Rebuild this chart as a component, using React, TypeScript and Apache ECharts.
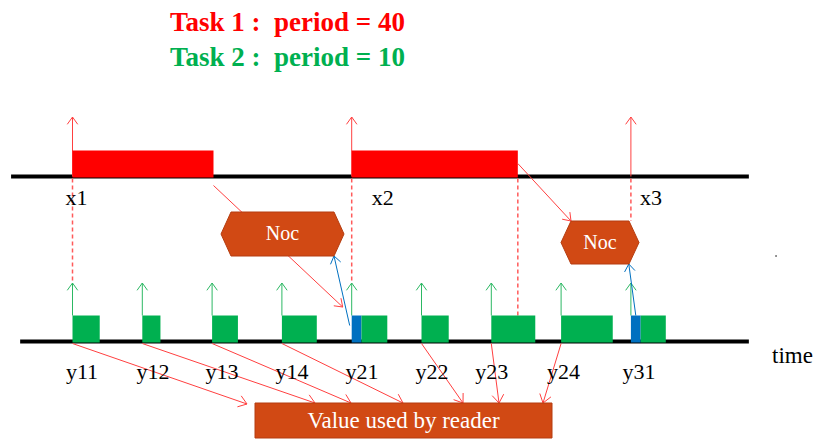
import React, { useEffect, useRef } from 'react';
import * as echarts from 'echarts';

// ---- data ----
const titles = ['Task 1 :  period = 40', 'Task 2 :  period = 10'];
const task1Labels = ['x1', 'x2', 'x3'];
const task1Releases = [0, 40, 80];
const task1Exec = [20.2, 23.8];
const task2Labels = ['y11', 'y12', 'y13', 'y14', 'y21', 'y22', 'y23', 'y24', 'y31'];
const task2Releases = [0, 10, 20, 30, 40, 50, 60, 70, 80];
const task2Noc = [0, 0, 0, 0, 1.4, 0, 0, 0, 1.4];
const task2Exec = [3.9, 2.6, 3.7, 5.0, 3.7, 3.9, 6.3, 7.4, 3.6];
const readerJobs = [0, 1, 2, 3, 5, 6, 7];
const nocLabel = 'Noc';
const readerLabel = 'Value used by reader';
const timeLabel = 'time';

// ---- layout (pixels / time units) ----
const PX_PER_UNIT = 6.98;
const ORIGIN_PX = 72.5;
const X_MIN = -ORIGIN_PX / PX_PER_UNIT;
const X_MAX = (820 - ORIGIN_PX) / PX_PER_UNIT;
const TOP_Y = 176.5;
const BOT_Y = 341.5;
const BAR_H = 26;
const TOP_ARROW_Y = 117;
const BOT_ARROW_Y = 283;
const TOP_START = -8.8;
const BOT_START = -7.5;
const LINE_END = 96.9;
const task1LabelDx = [4, 31, 20];
const task2LabelDx = [9.5, 10.7, 10, 10, 10.3, 10.5, 0.5, 2.5, 8];
const readerTargetsPx = [247, 315, 351, 403, 463, 499, 543];
const NOC = [
  { cx: 282.5, cy: 234, w: 123, h: 44 },
  { cx: 600, cy: 242.5, w: 78, h: 43 },
];
const BOX = { x: 255, y: 403, w: 297, h: 35 };

const SERIF = 'Liberation Serif';
const RED = '#FF0000';
const RED_LINE = '#FF4040';
const GREEN = '#00B050';
const GREEN_LINE = '#2CB863';
const BLUE = '#0070C0';
const ORANGE = '#D14914';
const ORANGE_EDGE = '#B53D10';

function txt(text: string, fill: string, size: number, bold = false, align = 'center') {
  const s: any = { text, fill, fontSize: size, fontFamily: SERIF, align, verticalAlign: 'middle' };
  if (bold) s.fontWeight = 'bold';
  return s;
}

function arrow(x1: number, y1: number, x2: number, y2: number, color: string, lw = 1, head = 8) {
  const a = Math.atan2(y2 - y1, x2 - x1);
  const s = 0.62;
  return {
    type: 'group',
    children: [
      { type: 'line', shape: { x1, y1, x2, y2 }, style: { stroke: color, lineWidth: lw, fill: 'none' } },
      {
        type: 'polyline',
        shape: {
          points: [
            [x2 - head * Math.cos(a - s), y2 - head * Math.sin(a - s)],
            [x2, y2],
            [x2 - head * Math.cos(a + s), y2 - head * Math.sin(a + s)],
          ],
        },
        style: { stroke: color, lineWidth: lw, fill: 'none' },
      },
    ],
  };
}

function custom(name: string, data: any[], z: number, render: (i: number, api: any) => any) {
  return {
    type: 'custom',
    name,
    coordinateSystem: 'cartesian2d',
    data,
    z,
    silent: true,
    clip: false,
    renderItem: (params: any, api: any) => render(params.dataIndex, api),
  };
}

function hexagon(n: { cx: number; cy: number; w: number; h: number }) {
  const l = n.cx - n.w / 2, r = n.cx + n.w / 2, t = n.cy - n.h / 2, b = n.cy + n.h / 2, k = 10;
  return [
    {
      type: 'polygon',
      z: 100,
      shape: { points: [[l, n.cy], [l + k, t], [r - k, t], [r, n.cy], [r - k, b], [l + k, b]] },
      style: { fill: ORANGE, stroke: ORANGE_EDGE, lineWidth: 1 },
    },
    { type: 'text', z: 101, x: n.cx, y: n.cy - 1, style: txt(nocLabel, '#FFFFFF', 20) },
  ];
}

const dashedEnds: [number, number][] = [
  [task1Releases[0], BOT_ARROW_Y],
  [task1Releases[1], BOT_ARROW_Y],
  [task1Releases[1] + task1Exec[1], BOT_Y - BAR_H],
  [task1Releases[2], NOC[1].cy - NOC[1].h / 2],
];

const option: any = {
  animation: false,
  grid: { left: 0, right: 0, top: 0, bottom: 0 },
  xAxis: { type: 'value', min: X_MIN, max: X_MAX, show: false },
  yAxis: { type: 'value', min: 0, max: 441, inverse: true, show: false },
  graphic: [
    { type: 'text', x: 170, y: 22, z: 100, style: txt(titles[0], RED, 27, true, 'left') },
    { type: 'text', x: 170, y: 57, z: 100, style: txt(titles[1], GREEN, 27, true, 'left') },
    { type: 'text', x: 772, y: 355, z: 100, style: txt(timeLabel, '#000', 23, false, 'left') },
    { type: 'circle', z: 100, shape: { cx: 776, cy: 256, r: 0.8 }, style: { fill: '#555' } },
    ...hexagon(NOC[0]),
    ...hexagon(NOC[1]),
    {
      type: 'rect', z: 100,
      shape: { x: BOX.x, y: BOX.y, width: BOX.w, height: BOX.h },
      style: { fill: ORANGE, stroke: ORANGE_EDGE, lineWidth: 1 },
    },
    { type: 'text', z: 101, x: BOX.x + BOX.w / 2, y: BOX.y + BOX.h / 2, style: txt(readerLabel, '#FFFFFF', 23) },
  ],
  series: [
    custom('timelines', [[0, 0], [1, 0]], 1, (i, api) => {
      const y = i === 0 ? TOP_Y : BOT_Y;
      const p0 = api.coord([i === 0 ? TOP_START : BOT_START, y]);
      const p1 = api.coord([LINE_END, y]);
      return { type: 'line', shape: { x1: p0[0], y1: p0[1], x2: p1[0], y2: p1[1] }, style: { stroke: '#000', lineWidth: 4, fill: 'none' } };
    }),
    custom('task1Release', task1Releases.map((r) => [r, 0]), 2, (i, api) => {
      const p0 = api.coord([task1Releases[i], TOP_Y]);
      const p1 = api.coord([task1Releases[i], TOP_ARROW_Y]);
      return arrow(p0[0], p0[1], p1[0], p1[1], RED_LINE, 1, 9);
    }),
    custom('task1Bars', task1Exec.map((d, i) => [task1Releases[i], d]), 3, (i, api) => {
      const p0 = api.coord([task1Releases[i], TOP_Y + 1]);
      const p1 = api.coord([task1Releases[i] + task1Exec[i], TOP_Y - BAR_H]);
      return { type: 'rect', shape: { x: p0[0], y: p1[1], width: p1[0] - p0[0], height: p0[1] - p1[1] }, style: { fill: RED } };
    }),
    custom('task2Release', task2Releases.map((r) => [r, 0]), 2, (i, api) => {
      const p0 = api.coord([task2Releases[i], BOT_Y - BAR_H]);
      const p1 = api.coord([task2Releases[i], BOT_ARROW_Y]);
      return arrow(p0[0], p0[1], p1[0], p1[1], GREEN_LINE, 1, 9);
    }),
    custom('task2Bars', task2Exec.map((d, i) => [task2Releases[i], d]), 3, (i, api) => {
      const r = task2Releases[i];
      const n = task2Noc[i];
      const children: any[] = [];
      const a0 = api.coord([r, BOT_Y + 1]);
      const a1 = api.coord([r + n, BOT_Y - BAR_H]);
      if (n > 0) {
        children.push({ type: 'rect', shape: { x: a0[0], y: a1[1], width: a1[0] - a0[0], height: a0[1] - a1[1] }, style: { fill: BLUE } });
      }
      const g1 = api.coord([r + n + task2Exec[i], BOT_Y - BAR_H]);
      children.push({ type: 'rect', shape: { x: a1[0], y: a1[1], width: g1[0] - a1[0], height: a0[1] - a1[1] }, style: { fill: GREEN } });
      return { type: 'group', children };
    }),
    custom('dashed', dashedEnds.map((d) => [d[0], 0]), 2, (i, api) => {
      const p0 = api.coord([dashedEnds[i][0], TOP_Y + 2]);
      const p1 = api.coord([dashedEnds[i][0], dashedEnds[i][1]]);
      return { type: 'line', shape: { x1: p0[0], y1: p0[1], x2: p1[0], y2: p1[1] }, style: { stroke: '#FF5A5A', lineWidth: 1.5, lineDash: [4, 3], fill: 'none' } };
    }),
    custom('nocFlow', [[0, 0], [1, 0], [2, 0], [3, 0]], 4, (i, api) => {
      if (i === 0) {
        const s = api.coord([task1Releases[0] + task1Exec[0], TOP_Y + 9]);
        const e = api.coord([task2Releases[4], 307]);
        return arrow(s[0], s[1], e[0] - 9, e[1], RED_LINE, 1, 9);
      }
      if (i === 1) {
        const s = api.coord([task1Releases[1] + task1Exec[1], TOP_Y - 13]);
        const n = NOC[1];
        return arrow(s[0], s[1], n.cx - n.w / 2 + 10, n.cy - n.h / 2, RED_LINE, 1, 9);
      }
      if (i === 2) {
        const s = api.coord([task2Releases[4], BOT_Y - 16]);
        const n = NOC[0];
        return arrow(s[0] - 2, s[1], n.cx + n.w / 2 - 10, n.cy + n.h / 2, BLUE, 1, 9);
      }
      const s = api.coord([task2Releases[8] + task2Noc[8] / 2, BOT_Y - BAR_H]);
      const n = NOC[1];
      return arrow(s[0], s[1], s[0] - 7, n.cy + n.h / 2, BLUE, 1, 9);
    }),
    custom('readerFlow', readerJobs.map((j) => [task2Releases[j], 0]), 4, (i, api) => {
      const s = api.coord([task2Releases[readerJobs[i]], BOT_Y + 2]);
      return arrow(s[0], s[1], readerTargetsPx[i], BOX.y + (i === 0 ? 1 : 0), RED_LINE, 1, 10);
    }),
    custom('task1Labels', task1Releases.map((r) => [r, 0]), 5, (i, api) => {
      const p = api.coord([task1Releases[i], 197]);
      return { type: 'text', x: p[0] + task1LabelDx[i], y: p[1], style: txt(task1Labels[i], '#000', 22) };
    }),
    custom('task2Labels', task2Releases.map((r) => [r, 0]), 5, (i, api) => {
      const p = api.coord([task2Releases[i], 371]);
      return { type: 'text', x: p[0] + task2LabelDx[i], y: p[1], style: txt(task2Labels[i], '#000', 22) };
    }),
  ],
};

export default function App() {
  const ref = useRef<HTMLDivElement>(null);
  useEffect(() => {
    document.body.style.margin = '0';
    const chart = echarts.init(ref.current!, null, { renderer: 'svg' });
    chart.setOption(option);
    return () => chart.dispose();
  }, []);
  return <div ref={ref} style={{ width: 820, height: 441 }} />;
}
